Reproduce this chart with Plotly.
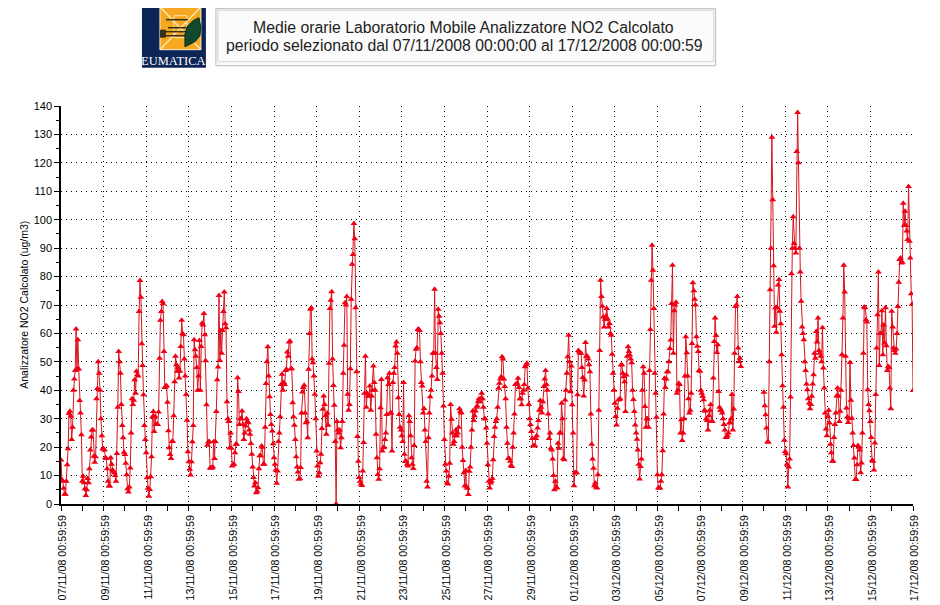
import pandas as pd
import plotly.graph_objects as go

TITLE_1 = "Medie orarie Laboratorio Mobile Analizzatore NO2 Calcolato"
TITLE_2 = "periodo selezionato dal 07/11/2008 00:00:00 al 17/12/2008 00:00:59"
Y_TITLE = "Analizzatore NO2 Calcolato (ug/m3)"
START = "2008-11-07 00:59:59"
END = "2008-12-17 00:59:59"

d01 = [15.5,8.5,8,5.5,3.4,3.4,8,13.8,19.4,31.8,32.6,30.9,22.7,27,40,44,47,61.6,47.5,57.8,47.5,36.4,32,24.4]
d02 = [8,9.8,7.5,5.4,3,5,9,7.5,12.4,19,23.6,26,26,16.8,14.7,16.6,37,40.6,50,46,40,30,24,19.4]
d03 = [19.4,19,16.3,16,12.4,8,6.3,6.3,16.3,14,12,11.5,11,10,8,17.8,34,53.6,50,46,35,27.6,23.3,18.2]
d04 = [17.4,14.3,10.3,5.4,4.2,6,12.7,25,37,35,36.5,43.7,39,46.7,45.5,45,67.7,78.6,72.7,56.4,48.7,38.4,27.6,22.7]
d05 = [18,9.2,5.5,2.7,5.1,9.6,16.6,30.6,32.5,25.5,30.9,28,28,28,32.4,51.3,64.6,67.7,71.2,70.4,53.6,41,41.4,41.6]
d06 = [35.8,25.8,19.8,17.4,16,22,22,31,43,52,49,46.7,48,44.3,46.7,55.4,64.6,60,59.5,51,45,38.5,29.5,18.4]
d07 = [14.9,12.2,10.2,14.9,21.9,27.6,57.8,54.3,52,48,40,45,57.5,40,55.4,63.6,63,67,59.5,50.4,34.9,20.7,21.8,22]
d08 = [12.7,12.7,12.7,13,21.9,16,22,32.5,43.7,48.2,73.3,50.5,61,53,61,67.7,74.6,63.4,62,36,30,29,19.8,25]
d09 = [19.6,13.4,14,14,18,21,21,44.4,39.6,28,30,30,32.7,28,22.7,25,27.4,30,29,28.6,26,24.5,21.3,17.5]
d10 = [13,9.3,6.3,7.5,4,4.5,5.7,12.4,17,17,20.4,20,14,14,27,42.4,50,55.3,45,37.7,31.5,28,25.7,21.2]
d11 = [16.3,14,12,7.3,11.6,22,25,30.7,42,45.6,40,42.7,42,47,47.4,53.5,52,57,57.3,47.6,47.6,35.6,30.7,27.7]
d12 = [22.7,16.6,13,11.3,8.7,9,12.8,32,39.4,41,41.8,32,28.6,29,23.3,47.4,60,68.5,69,51,49.7,45,38.6,30]
d13 = [18.6,13.4,9.8,11,14.5,17.5,26.6,33.3,38,35,31,24.5,32,27.7,49.5,68.8,71.7,74.7,51,41.7,34.7,22,0,29]
d14 = [26,25,26,19.8,23.3,29,46,55.8,70.8,70,73,38.6,33,35,47.6,72,84.3,87.8,98.7,93.3,69,46.5,23.7,15]
d15 = [9.3,8,7,6.5,11.6,21.6,39,52,34,39,38,38,41.5,33,38,40,48.5,42.7,40,24.5,16.3,10.4,8.7,12.4]
d16 = [33.9,43.8,18.6,19.8,20,22.7,25,31.5,44.4,42,46,32,32,18.6,42.7,46,48,55.6,57,53,37.4,31.5,27,26]
d17 = [24,22,42.7,17.5,15,15,14,13.4,31,29,24,16.3,14,12.5,20.6,50.3,54.4,55,61.4,61.5,61,50,42.7,41.5]
d18 = [32,33.6,26,22,8,6,23.3,32,37.7,40,45,53,53,75.5,53,48,43.8,68.5,66,63.8,60,53,46,34.5]
d19 = [22.7,14,11.6,7.5,7,9.8,14.3,35,29.8,25,21,22,24,26,24,25,27,33.5,32.5,32,20,15.3,11,6.4]
d20 = [11.8,6,5.5,3.3,11.5,13,20,26,32.7,29.4,31,32.7,34,34.5,36,37,36,37,39,37,34,30,30,26.7]
d21 = [21.4,13.8,8,5.6,7.4,8,9,15.6,23.7,27,29,30,34,40.7,42.5,44,44.8,51.8,51,44,41.3,37,27,21.4]
d22 = [16,16,15,13.5,13.2,20,25,31.7,42,42,42.5,44.2,41,37,37,34.9,39,40,42,48.3,49,49.5,40.7,35]
d23 = [30,28,25.5,23,20.5,20.5,20.5,23,24,26.7,29.4,33,36.4,34,32,36,41.3,44,47,42,40,31.7,23,25]
d24 = [19.6,19,15.8,10,5,8,6,5.6,21.4,19.6,25,25,35.4,30,16,15.6,36.6,40,46,51.8,59.4,50,39.5,48.5]
d25 = [34.9,25,6.4,11,11,11,38.4,54,53.5,53,53,48,44.5,38,43.6,56.8,52,52,51,49,46.5,31.7,21,15.8]
d26 = [12.6,6.4,7.4,6,5.6,10.3,33,54,78.7,73,69.6,65.8,62.3,65,66,68.8,65,62.3,63.5,60,59.4,52.7,46,40]
d27 = [35.4,30.8,27.8,33.7,36.6,36.8,37,48.9,49,46,44.8,43,32.5,45.4,52,55.3,53.6,52.4,51,49.7,40,36.8,32.5,27.8]
d28 = [25,22.8,19,14,8.8,13.2,15.8,40,48.3,46,34.3,27,30,30,27,47,61.4,78.7,91,82.2,68.8,46,39,30.5]
d29 = [10.3,5.6,5.6,5.6,8,10.3,18.7,31.7,44.2,41,44,46.5,46.5,50,54.7,57.7,70.5,84,53,68,70,71,39,40]
d30 = [42.5,42,25,29.6,22.3,25,30,45,58.8,53.2,45,37,32,33,39,56.5,77.8,75,72,70,58.8,55.5,53.6,47]
d31 = [46.7,40,39,37.9,36.7,33,32.6,30,29.4,26,31,33,35,29,29,44.3,57.2,65.4,59.3,53.3,56,39.6,34,33]
d32 = [33,32,30,28,26,23.4,23.5,24,25,28.5,28.7,30,38.5,26,33.4,53,69.5,70,73,54.9,50,51.3,48.4,None]
d33 = [None]*24
d34 = [39.3,34.6,31.4,26.7,21.8,21.8,50,75.4,90,129,107,83.8,62.5,69,60.4,69,77,79,67.8,63.4,52.5,41.6,34,22.4]
d35 = [18.5,17.7,14,6,13,15.8,37.6,81,90,101,91.6,90,88.3,124,137.7,120,90,81.6,71.3,62.3,60,57.8,50,47]
d36 = [42.2,40.2,37,35.5,33.5,35,37.9,42.2,45.5,53,51.3,60.7,57,65.4,54,53,52,50,62,47.8,40.8,32,26.4,24]
d37 = [30.8,33,28.5,21,18,15,15,23.4,28,32,38,40.8,38,29,32.6,40,52.5,65.4,84,74.6,52,33.8,30.6,28.7]
d38 = [30,49.8,36.5,30.2,25,20.6,16.2,8.6,8.6,13.8,20.6,20,19,11,14.4,25,53,69.3,69,64.8,64,40.2,35,32.8]
d39 = [29,23.4,15.4,15,12,21.5,38.5,54.9,66.6,81.6,48.7,60,60,68,52.5,63,56.6,69,55.7,47,48.4,48,40.8,33.5]
d40 = [67.8,62.3,54.9,54,53,54.5,60,69.5,78,86,86.5,84.8,85,105.8,98,103,98,96,93,111.7,92.4,86.5,74,70.3]
d41 = [39.9]

days = [d01,d02,d03,d04,d05,d06,d07,d08,d09,d10,d11,d12,d13,d14,d15,d16,d17,d18,d19,d20,
        d21,d22,d23,d24,d25,d26,d27,d28,d29,d30,d31,d32,d33,d34,d35,d36,d37,d38,d39,d40,d41]
values = [v for day in days for v in day]
times = pd.date_range(START, periods=len(values), freq="h")

# The page has an 8 px body margin: figure is 932x597, its origin at page (8, 8).
W, H = 932, 597
OX, OY = 8, 8
PL, PR, PT, PB = 61, 913.5, 106.3, 504.3   # plot area in page pixels
def px(x): return (x - PL) / (PR - PL)
def py(y): return (PB - y) / (PB - PT)

fig = go.Figure(go.Scatter(
    x=times, y=values, mode="lines+markers", connectgaps=False,
    line=dict(color="#d8141c", width=1),
    marker=dict(symbol="triangle-up", size=6, color="#f00014", line=dict(width=0)),
    hoverinfo="skip",
))

GRID = "1px,4px"
fig.update_xaxes(
    type="date", range=[START, END], tick0=START, dtick=172800000,
    tickformat="%d/%m/%y %H:%M:%S", tickangle=-90, ticklabelshift=2,
    tickfont=dict(family="Liberation Sans", size=10.7, color="#000"),
    ticks="outside", ticklen=5, tickcolor="#000", tickwidth=1,
    showline=True, linecolor="#000", linewidth=1.5,
    showgrid=True, gridcolor="#000", griddash=GRID, gridwidth=1,
    minor=dict(dtick=86400000, tick0=START, ticks="outside", ticklen=5, tickcolor="#000", showgrid=False),
    zeroline=False,
)
fig.update_yaxes(
    range=[0, 140], tick0=0, dtick=10,
    tickfont=dict(family="Liberation Sans", size=11, color="#000"),
    ticks="outside", ticklen=5, tickcolor="#000", tickwidth=1,
    showline=True, linecolor="#000", linewidth=1.5,
    showgrid=True, gridcolor="#000", griddash=GRID, gridwidth=1,
    minor=dict(dtick=5, ticks="outside", ticklen=3, tickcolor="#000", showgrid=False),
    zeroline=False,
)

def rect(x0, y0, x1, y1, fill="rgba(0,0,0,0)", line="rgba(0,0,0,0)", w=1):
    return dict(type="rect", xref="paper", yref="paper", x0=px(x0), x1=px(x1), y0=py(y0), y1=py(y1),
                fillcolor=fill, line=dict(color=line, width=w), layer="above")

def seg(x0, y0, x1, y1, color, w=1):
    return dict(type="line", xref="paper", yref="paper", x0=px(x0), x1=px(x1), y0=py(y0), y1=py(y1),
                line=dict(color=color, width=w), layer="above")

def path(points, fill, line):
    d = "M " + " L ".join("%f %f" % (px(a), py(b)) for a, b in points) + " Z"
    return dict(type="path", xref="paper", yref="paper", path=d, fillcolor=fill,
                line=dict(color=line, width=1), layer="above")

LEAF = [(185, 47), (185, 34), (188, 26), (193, 21), (199, 18), (201, 28), (200, 36), (195, 42), (189, 45)]

shapes = [
    rect(142, 4, 206, 68, fill="#0c2456"),
    rect(160, 7, 201, 50, fill="#f6a820", line="#fff1cf"),
    seg(160, 7, 201, 50, "#ffe9b0", 1.5), seg(160, 50, 201, 7, "#ffe9b0", 1.5),
    rect(174, 16, 187, 38, line="#ffe9b0"),
    seg(166, 20, 188, 20, "#33301c", 1.5), seg(168, 28, 190, 28, "#33301c", 1.5),
    seg(160, 32, 186, 32, "#33301c", 1.5), seg(160, 36, 186, 36, "#33301c", 1.5),
    rect(160, 30, 166, 38, fill="#33301c"),
    path(LEAF, "#12492c", "#08301c"),
    rect(216, 9, 716, 66, fill="#fbfbfb", line="#b8b8b8", w=1),
    rect(218, 10.5, 714, 62, line="#d4d4d4", w=1),
]

anns = [
    dict(text="EUMATICA", x=px(174), y=py(61.5), font=dict(family="Liberation Serif", size=12.5, color="#fff")),
    dict(text=TITLE_1, x=px(464), y=py(28), font=dict(family="Liberation Sans", size=15.8, color="#222")),
    dict(text=TITLE_2, x=px(465), y=py(46), font=dict(family="Liberation Sans", size=15.8, color="#222")),
    dict(text=Y_TITLE, x=px(24), y=py(305), textangle=-90, font=dict(family="Liberation Sans", size=10.5, color="#000")),
]
for a in anns:
    a.update(xref="paper", yref="paper", showarrow=False, xanchor="center", yanchor="middle")

fig.update_layout(
    width=W, height=H, showlegend=False,
    paper_bgcolor="#fff", plot_bgcolor="#fff",
    margin=dict(l=PL - OX, r=W - (PR - OX), t=PT - OY, b=H - (PB - OY), autoexpand=False),
    shapes=shapes, annotations=anns,
)
fig.write_html("out.html")
